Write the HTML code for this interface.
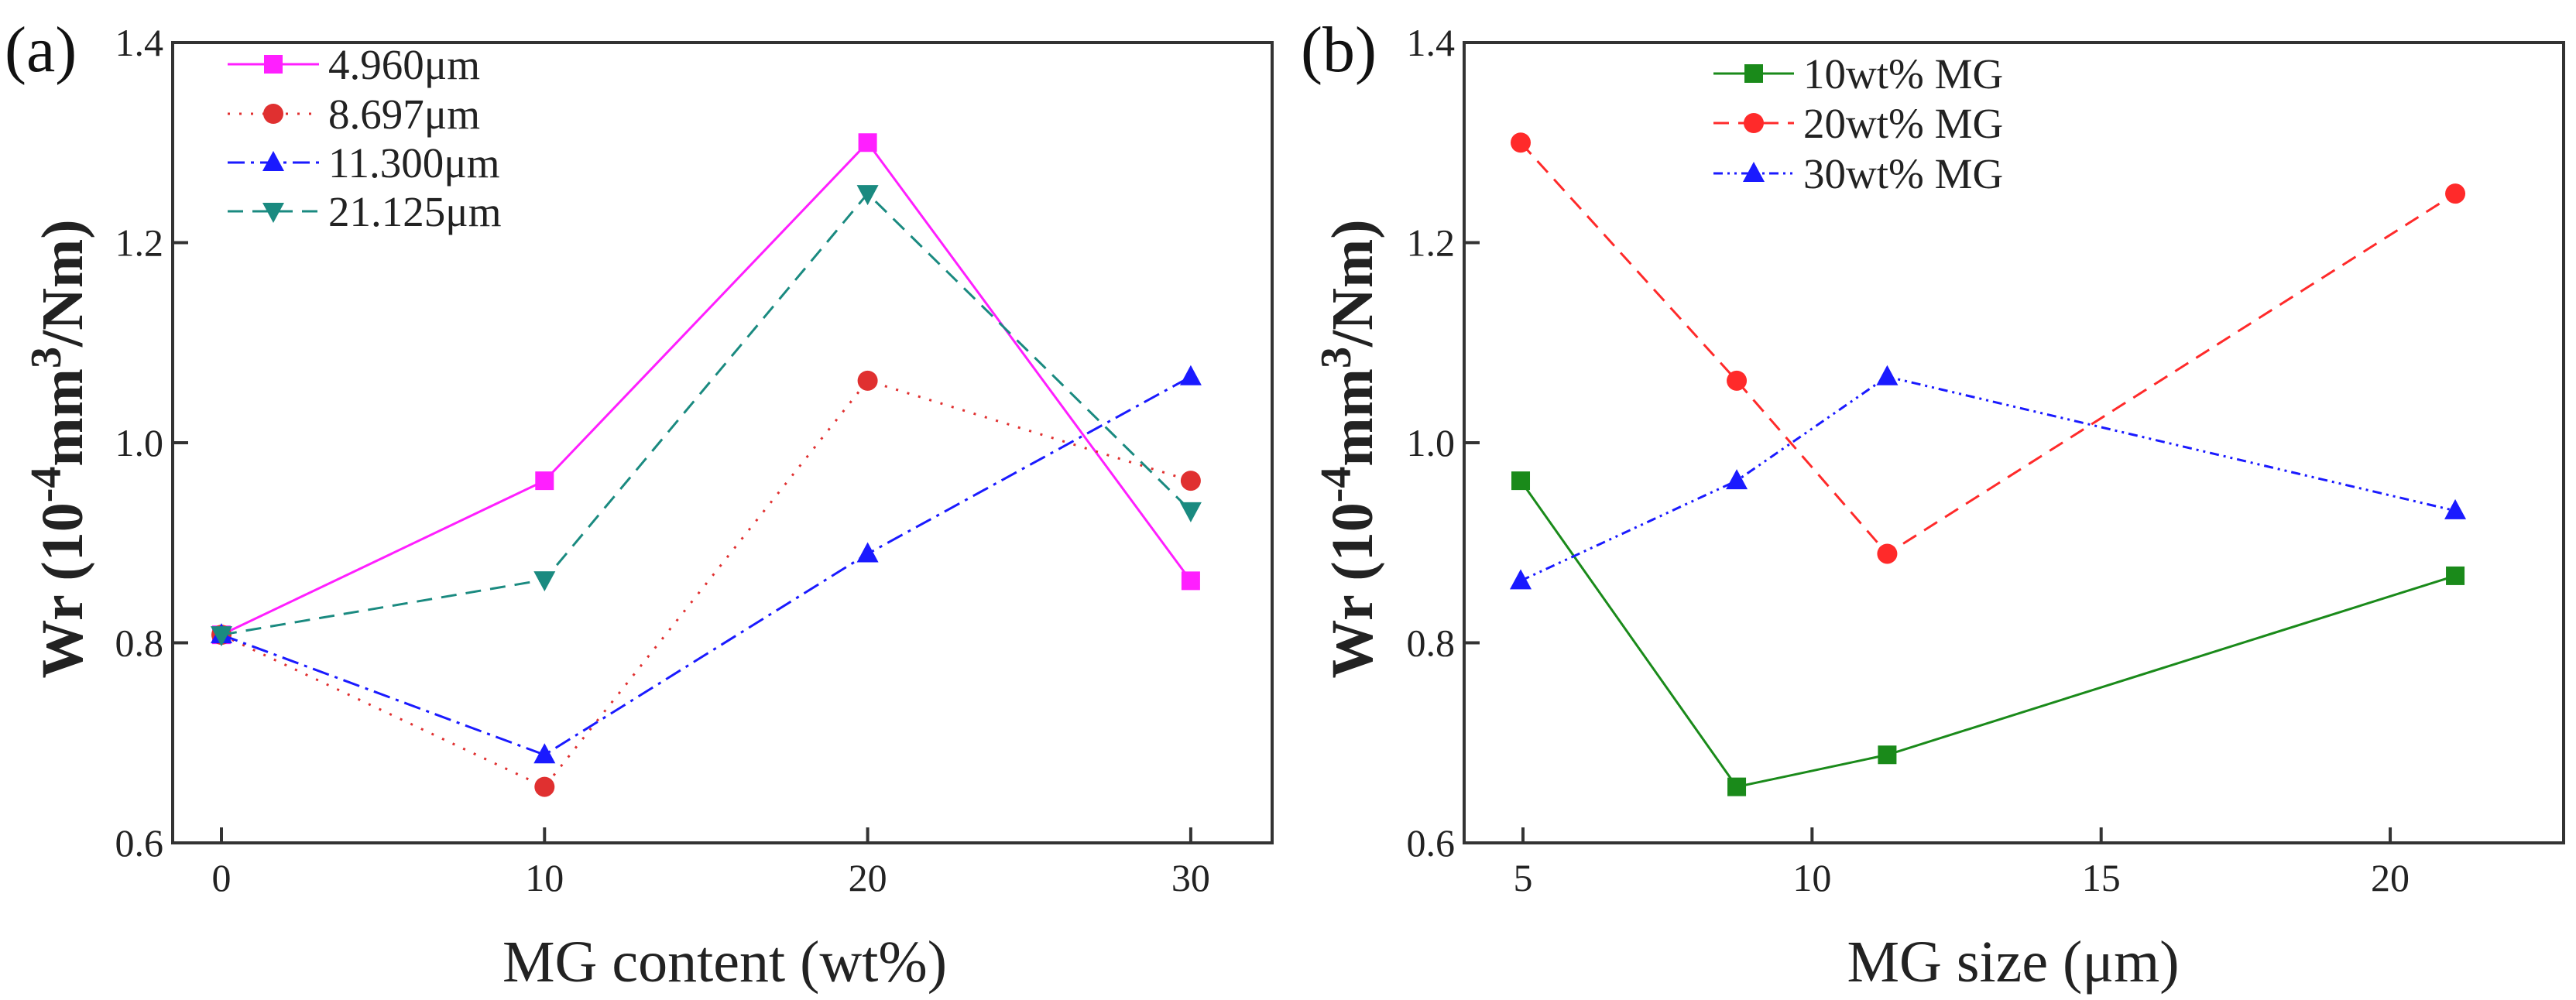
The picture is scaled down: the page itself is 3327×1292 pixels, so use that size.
<!DOCTYPE html>
<html><head><meta charset="utf-8"><style>
html,body{margin:0;padding:0;background:#fff;}
svg{display:block;font-family:"Liberation Serif",serif;}
</style></head><body>
<svg id="chart" width="3327" height="1292" viewBox="0 0 3327 1292" xmlns="http://www.w3.org/2000/svg"></svg>
<script>
const contentX = [0, 10, 20, 30];
const s_4960 = [0.808, 0.962, 1.300, 0.862];
const s_8697 = [0.808, 0.656, 1.062, 0.962];
const s_11300 = [0.808, 0.688, 0.889, 1.066];
const s_21125 = [0.808, 0.863, 1.249, 0.932];
const sizeX = [4.96, 8.697, 11.3, 21.125];
const s_10wt = [0.962, 0.656, 0.688, 0.867];
const s_20wt = [1.300, 1.062, 0.889, 1.249];
const s_30wt = [0.862, 0.962, 1.066, 0.932];
const yTicks = [0.6, 0.8, 1.0, 1.2, 1.4];
const yTickLabels = ["0.6", "0.8", "1.0", "1.2", "1.4"];
const xTicksA = [0, 10, 20, 30];
const xTicksB = [5, 10, 15, 20];
const legendA = ["4.960\u03bcm", "8.697\u03bcm", "11.300\u03bcm", "21.125\u03bcm"];
const legendB = ["10wt% MG", "20wt% MG", "30wt% MG"];

const NS = "http://www.w3.org/2000/svg";
const svg = document.getElementById('chart');
function mk(tag, attrs, parent) {
  const e = document.createElementNS(NS, tag);
  for (const k in attrs) e.setAttribute(k, attrs[k]);
  (parent || svg).appendChild(e);
  return e;
}
function yScale(v) { return 1089 - (v - 0.6) * 1292.5; }
const xA = v => 286 + v * 41.73;
const xB = v => 1967 + (v - 5) * 74.67;

function marker(g, type, x, y, color) {
  let m;
  const s = 12;
  if (type === 'square') m = mk('rect', {x: x - s, y: y - s, width: 2 * s, height: 2 * s, fill: color}, g);
  else if (type === 'circle') m = mk('circle', {cx: x, cy: y, r: 13, fill: color}, g);
  else if (type === 'up') m = mk('polygon', {points: `${x},${y - 15} ${x - 14},${y + 11} ${x + 14},${y + 11}`, fill: color}, g);
  else m = mk('polygon', {points: `${x},${y + 15} ${x - 14},${y - 11} ${x + 14},${y - 11}`, fill: color}, g);
  
  
}

function panel(opts) {
  const g = mk('g', {});
  
  
  const L = opts.left, R = opts.right, T = 55, B = 1089;
  // ticks
  yTicks.forEach((v, i) => {
    const y = yScale(v);
    mk('line', {x1: L, y1: y, x2: L + 20, y2: y, stroke: '#333', 'stroke-width': 4}, g);
    const t = mk('text', {x: L - 12, y: y + 17, 'font-size': 50, 'text-anchor': 'end', fill: '#222'}, g);
    t.textContent = yTickLabels[i];
    
    
  });
  opts.xticks.forEach(v => {
    const x = opts.xs(v);
    mk('line', {x1: x, y1: B, x2: x, y2: B - 20, stroke: '#333', 'stroke-width': 4}, g);
    const t = mk('text', {x: x, y: B + 62, 'font-size': 50, 'text-anchor': 'middle', fill: '#222'}, g);
    t.textContent = String(v);
    
    
  });
  const fr = mk('rect', {x: L, y: T, width: R - L, height: B - T, fill: 'none', stroke: '#333', 'stroke-width': 4}, g);
  
  
  // series
  opts.series.forEach(s => {
    const pts = opts.x.map((xv, i) => `${opts.xs(xv)},${yScale(s.data[i])}`).join(' ');
    const pl = mk('polyline', {points: pts, fill: 'none', stroke: s.color, 'stroke-width': 3, 'stroke-dasharray': s.dash}, g);
    
    
    opts.x.forEach((xv, i) => marker(g, s.marker, opts.xs(xv), yScale(s.data[i]), s.color));
  });
  // legend
  opts.series.forEach((s, i) => {
    const y = opts.legY[i];
    const lg = mk('g', {}, g);
    
    
    mk('line', {x1: opts.legX1, y1: y, x2: opts.legX2, y2: y, stroke: s.color, 'stroke-width': 3, 'stroke-dasharray': s.dash}, lg);
    marker(lg, s.marker, (opts.legX1 + opts.legX2) / 2, y, s.color);
    const t = mk('text', {x: opts.legX2 + 12, y: y + 19, 'font-size': 55, fill: '#222'}, lg);
    t.textContent = opts.legend[i];
  });
  // panel label
  const pl = mk('text', {x: opts.labX, y: 92, 'font-size': 84, fill: '#111'}, g);
  pl.textContent = opts.label;
  
  
  // x title
  const xt = mk('text', {x: opts.titleX, y: 1268, 'font-size': 76, 'text-anchor': 'middle', fill: '#222'}, g);
  xt.textContent = opts.xtitle;
  
  
  // y title
  const yt = mk('text', {x: 0, y: 0, 'font-size': 76, 'font-weight': 'bold', 'text-anchor': 'middle', fill: '#222',
    transform: `translate(${opts.ytX},580) rotate(-90)`}, g);
  
  
  yt.innerHTML = 'Wr (10<tspan dy="-28" font-size="56">-4</tspan><tspan dy="28">mm</tspan><tspan dy="-28" font-size="56">3</tspan><tspan dy="28">/Nm)</tspan>';
}

panel({name: 'panel-a', left: 223, right: 1643, xs: xA, x: contentX, xticks: xTicksA,
  series: [
    {data: s_4960, color: '#ff1fff', dash: 'none', marker: 'square'},
    {data: s_8697, color: '#e03030', dash: '3 12', marker: 'circle'},
    {data: s_11300, color: '#1a1aff', dash: '22 8 4 8', marker: 'up'},
    {data: s_21125, color: '#1a8a80', dash: '20 12', marker: 'down'}],
  legend: legendA, legY: [83, 147, 210, 273], legX1: 294, legX2: 412,
  label: '(a)', labX: 6, xtitle: 'MG content (wt%)', titleX: 936, ytX: 106});

panel({name: 'panel-b', left: 1891, right: 3311, xs: xB, x: sizeX, xticks: xTicksB,
  series: [
    {data: s_10wt, color: '#1a8a1a', dash: 'none', marker: 'square'},
    {data: s_20wt, color: '#ff2a2a', dash: '20 12', marker: 'circle'},
    {data: s_30wt, color: '#1a1aff', dash: '12 6 3 6 3 6', marker: 'up'}],
  legend: legendB, legY: [95, 159, 224], legX1: 2213, legX2: 2317,
  label: '(b)', labX: 1680, xtitle: 'MG size (\u03bcm)', titleX: 2600, ytX: 1772});
</script>
</body></html>
